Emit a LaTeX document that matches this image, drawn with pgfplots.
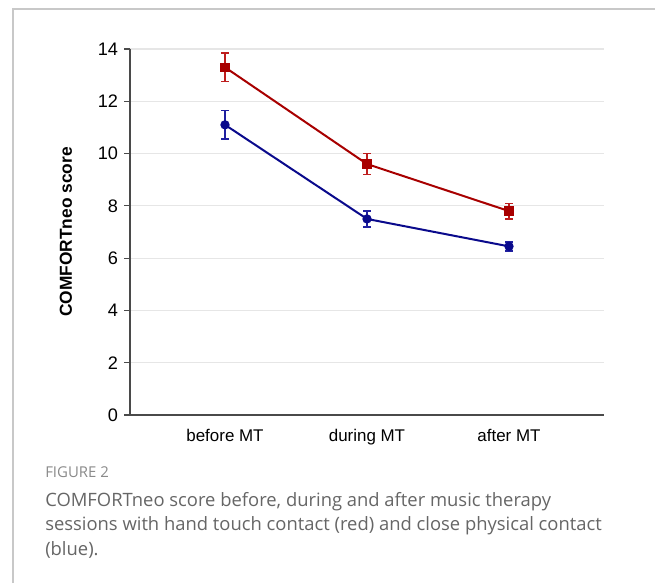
\documentclass[border=0pt]{standalone}
\usepackage{fontspec}
\setmainfont{Liberation Sans}
\newfontfamily\capfont{Open Sans}
\usepackage{pgfplots}
\pgfplotsset{compat=1.18}
\definecolor{redline}{HTML}{A80000}
\definecolor{redbar}{HTML}{BE1E1E}
\definecolor{blueline}{HTML}{0A0A8C}
\definecolor{bluebar}{HTML}{2020A0}
\definecolor{gridc}{HTML}{E6E6E6}
\definecolor{axisc}{HTML}{4A4A4A}
\definecolor{capc}{HTML}{666666}
\definecolor{figc}{HTML}{8A8A8A}
\definecolor{framec}{HTML}{C8C8C8}
\begin{document}
\begin{tikzpicture}
\useasboundingbox (0,0) rectangle (491.25pt,437.25pt);
\fill[white] (0,0) rectangle (491.25pt,437.25pt);
\draw[framec, line width=1.5pt] (9.75pt,0) -- (9.75pt,430.5pt) -- (491.25pt,430.5pt);
\begin{axis}[
  at={(97.5pt,126pt)}, anchor=south west,
  scale only axis,
  width=355.5pt, height=274.5pt,
  xmin=-0.669, xmax=2.669,
  ymin=0, ymax=14,
  axis x line=bottom, axis y line=left,
  axis line style={-, axisc, line width=0.8pt},
  xtick={0,1,2},
  xticklabels={before MT,during MT,after MT},
  x tick style={draw=none},
  ytick={0,2,...,14},
  y tick style={axisc, line width=0.8pt},
  tick align=outside,
  major tick length=4.5pt,
  ymajorgrids,
  grid style={gridc, line width=0.8pt},
  yticklabel style={font=\fontsize{13.6}{15}\selectfont, text=black, xshift=-1pt},
  xticklabel style={font=\fontsize{12.7}{15}\selectfont, text=black, yshift=-3pt},
  /pgf/number format/assume math mode=true,
  ylabel={\fontsize{13}{15}\selectfont\bfseries COMFORTneo score},
  ylabel style={at={(-0.135,0.5)}, anchor=center},
  clip=false,
]
\addplot[redline, line width=1.5pt, mark=square*, mark size=2.7pt,
  mark options={solid, fill=redline},
  error bars/.cd, y dir=both, y explicit,
  error bar style={redbar, line width=1.1pt},
  error mark options={rotate=90, redbar, mark size=2.8pt, line width=1.1pt}]
  coordinates {(0,13.3) +- (0,0.55) (1,9.6) +- (0,0.4) (2,7.8) +- (0,0.3)};
\addplot[blueline, line width=1.5pt, mark=*, mark size=2.7pt,
  mark options={solid, fill=blueline},
  error bars/.cd, y dir=both, y explicit,
  error bar style={bluebar, line width=1.1pt},
  error mark options={rotate=90, bluebar, mark size=2.8pt, line width=1.1pt}]
  coordinates {(0,11.1) +- (0,0.55) (1,7.5) +- (0,0.3) (2,6.45) +- (0,0.17)};
\end{axis}
\node[anchor=base west, inner sep=0pt, text=figc, font=\capfont\fontsize{11.2}{12}\selectfont] at (33.75pt,79.5pt) {FIGURE 2};
\node[anchor=base west, inner sep=0pt, text=capc, font=\capfont\fontsize{13.8}{15}\selectfont] at (33.75pt,57.75pt) {COMFORTneo score before, during and after music therapy};
\node[anchor=base west, inner sep=0pt, text=capc, font=\capfont\fontsize{13.8}{15}\selectfont] at (33.75pt,39.4pt) {sessions with hand touch contact (red) and close physical contact};
\node[anchor=base west, inner sep=0pt, text=capc, font=\capfont\fontsize{13.8}{15}\selectfont] at (33.75pt,21pt) {(blue).};
\end{tikzpicture}
\end{document}
